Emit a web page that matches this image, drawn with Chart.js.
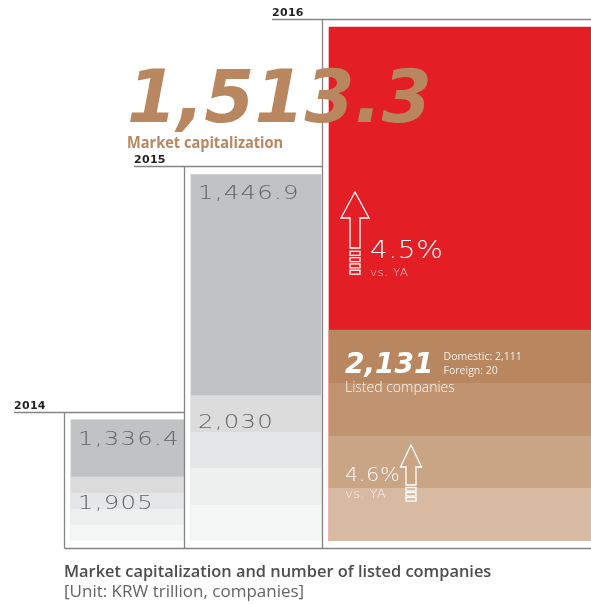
<!DOCTYPE html>
<html>
<head>
<meta charset="utf-8">
<script src="https://cdn.jsdelivr.net/npm/chart.js@4.4.1/dist/chart.umd.min.js"></script>
<style>
  html, body { margin: 0; padding: 0; background: #ffffff; }
  #wrap { position: relative; width: 591px; height: 604px; }
  canvas { display: block; }
</style>
</head>
<body>
<div id="wrap"><canvas id="chart" width="591" height="604"></canvas></div>
<script>
// ---------------- data ----------------
const years = ['2014', '2015', '2016'];
const marketCap = [1336.4, 1446.9, 1513.3];      // KRW trillion
const listedCompanies = [1905, 2030, 2131];      // companies
const listedDomestic2016 = 2111;
const listedForeign2016 = 20;
const growthVsYA = ['4.5%', '4.6%'];             // [market cap, listed companies]
const captionTitle = 'Market capitalization and number of listed companies';
const captionUnit = '[Unit: KRW trillion, companies]';

// ---------------- layout / style ----------------
const columnEdges = [[71, 184], [191, 321], [329, 591]];   // left/right edge of each year column (px)
const capColors = ['#c1c2c4', '#c1c2c4', '#e31e25'];
const bandPalettes = [
  ['#dcdcdd', '#e5e6e8', '#eeefef', '#f5f6f6'],
  ['#dcdcdd', '#e5e6e8', '#eeefef', '#f5f6f6'],
  ['#b8875f', '#c09470', '#c9a586', '#d7baa1']
];
const TAN = '#b8865f';
const GREY_TEXT = '#636468';
const LINE = '#848484';

const fmtCap = v => v.toLocaleString('en-US', { minimumFractionDigits: 1, maximumFractionDigits: 1 });
const fmtInt = v => v.toLocaleString('en-US');

function bandFill(context, i) {
  const chart = context.chart;
  const area = chart.chartArea;
  const y = chart.scales.yListed;
  if (!area || !y || context.type !== 'data') return bandPalettes[i][0];
  const top = y.getPixelForValue(context.parsed.y);
  const bottom = area.bottom;
  const g = chart.ctx.createLinearGradient(0, top, 0, bottom);
  bandPalettes[i].forEach((c, k) => {
    g.addColorStop(k / 4, c);
    g.addColorStop((k + 1) / 4, c);
  });
  return g;
}

const datasets = [];
years.forEach((yr, i) => {
  const [l, r] = columnEdges[i];
  datasets.push({
    label: yr + ' listed companies',
    yAxisID: 'yListed',
    data: [{ x: (l + r) / 2, y: listedCompanies[i] }],
    barThickness: r - l,
    grouped: false,
    order: 0,
    borderWidth: 0,
    backgroundColor: ctx => bandFill(ctx, i)
  });
  datasets.push({
    label: yr + ' market capitalization',
    yAxisID: 'yCap',
    data: [{ x: (l + r) / 2, y: marketCap[i] }],
    barThickness: r - l,
    grouped: false,
    order: 1,
    borderWidth: 0,
    backgroundColor: capColors[i]
  });
});

// draws text; sx = horizontal stretch (to mimic the wide display face)
function drawText(ctx, str, x, y, font, color, ls, sx) {
  ctx.save();
  ctx.font = font;
  ctx.fillStyle = color;
  ctx.textAlign = 'left';
  ctx.textBaseline = 'alphabetic';
  if ('letterSpacing' in ctx) ctx.letterSpacing = (ls || 0) + 'px';
  ctx.translate(x, y);
  ctx.scale(sx || 1, 1);
  ctx.fillText(str, 0, 0);
  const w = ctx.measureText(str).width * (sx || 1);
  ctx.restore();
  return w;
}

function drawArrow(ctx, cx, tip, headW, headH, shaftW, shaftLen, nBoxes, boxH, boxGap) {
  ctx.save();
  ctx.strokeStyle = '#ffffff';
  ctx.lineWidth = 1.3;
  ctx.lineJoin = 'miter';
  const hb = tip + headH, sb = hb + shaftLen;
  ctx.beginPath();
  ctx.moveTo(cx, tip);
  ctx.lineTo(cx + headW / 2, hb);
  ctx.lineTo(cx + shaftW / 2, hb);
  ctx.lineTo(cx + shaftW / 2, sb);
  ctx.lineTo(cx - shaftW / 2, sb);
  ctx.lineTo(cx - shaftW / 2, hb);
  ctx.lineTo(cx - headW / 2, hb);
  ctx.closePath();
  ctx.stroke();
  let y = sb + boxGap + 1;
  for (let k = 0; k < nBoxes; k++) {
    ctx.strokeRect(cx - shaftW / 2, y, shaftW, boxH);
    y += boxH + boxGap;
  }
  ctx.restore();
}

const decor = {
  id: 'decor',
  afterDatasetsDraw(chart) {
    const ctx = chart.ctx;
    const area = chart.chartArea;
    const boxes = years.map((_, i) => {
      const lst = chart.getDatasetMeta(2 * i).data[0].getProps(['x', 'y', 'width'], true);
      const cap = chart.getDatasetMeta(2 * i + 1).data[0].getProps(['x', 'y', 'width'], true);
      return { left: cap.x - cap.width / 2, right: cap.x + cap.width / 2, top: cap.y, mid: lst.y, bottom: area.bottom };
    });

    // frames
    ctx.save();
    ctx.strokeStyle = LINE;
    ctx.lineWidth = 1.3;
    const bottomY = Math.round(area.bottom + 7) + 0.5;
    boxes.forEach((b, i) => {
      const lineY = Math.round(b.top - 8) + 0.5;
      const vx = Math.floor(b.left - 7) + 0.5;
      const rightEnd = i < boxes.length - 1 ? Math.floor(boxes[i + 1].left - 7) + 0.5 : chart.width;
      ctx.beginPath();
      ctx.moveTo(b.left - 57, lineY);
      ctx.lineTo(rightEnd, lineY);
      ctx.moveTo(vx, lineY);
      ctx.lineTo(vx, bottomY);
      ctx.stroke();
      drawText(ctx, years[i], b.left - 57, lineY - 4, 'bold 11px "DejaVu Sans"', '#231f20', 0.3);
    });
    ctx.beginPath();
    ctx.moveTo(Math.floor(boxes[0].left - 7) + 0.5, bottomY);
    ctx.lineTo(chart.width, bottomY);
    ctx.stroke();
    ctx.restore();

    // grey columns (2014, 2015)
    for (let i = 0; i < 2; i++) {
      const b = boxes[i];
      drawText(ctx, fmtCap(marketCap[i]), b.left + 7, b.top + 25, '200 20px "DejaVu Sans"', GREY_TEXT, 1, 1.22);
      drawText(ctx, fmtInt(listedCompanies[i]), b.left + 7, b.mid + 32, '200 20px "DejaVu Sans"', GREY_TEXT, 1, 1.22);
    }

    // 2016 column
    const b = boxes[2];
    drawText(ctx, fmtCap(marketCap[2]), b.left - 202, b.top + 95, 'italic bold 73px "DejaVu Sans"', TAN, 0, 0.985);
    drawText(ctx, 'Market capitalization', b.left - 202, b.top + 121, '700 15.5px "Open Sans"', TAN, 0, 0.94);

    drawArrow(ctx, b.left + 26, b.mid - 138, 28, 26, 10, 30, 4, 4, 2.3);
    drawText(ctx, growthVsYA[0], b.left + 41, b.mid - 72, '200 25px "DejaVu Sans"', '#ffffff', 0.5, 1.12);
    drawText(ctx, 'vs. YA', b.left + 41, b.mid - 54, '200 11px "DejaVu Sans"', 'rgba(255,255,255,0.75)', 0.4, 1.1);

    const w = drawText(ctx, fmtInt(listedCompanies[2]), b.left + 16, b.mid + 43, 'italic bold 28px "DejaVu Sans"', '#ffffff', 0);
    drawText(ctx, 'Domestic: ' + fmtInt(listedDomestic2016), b.left + 16 + w + 10, b.mid + 30, '10.5px "Open Sans"', 'rgba(255,255,255,0.85)', 0);
    drawText(ctx, 'Foreign: ' + fmtInt(listedForeign2016), b.left + 16 + w + 10, b.mid + 44, '10.5px "Open Sans"', 'rgba(255,255,255,0.85)', 0);
    drawText(ctx, 'Listed companies', b.left + 16, b.mid + 62, '300 14px "Open Sans"', 'rgba(255,255,255,0.92)', 0);

    drawArrow(ctx, b.left + 82, b.mid + 115, 21, 22, 10, 18, 3, 3.5, 1.5);
    drawText(ctx, growthVsYA[1], b.left + 16, b.mid + 151, '200 19px "DejaVu Sans"', 'rgba(255,255,255,0.95)', 0.5, 1.1);
    drawText(ctx, 'vs. YA', b.left + 16, b.mid + 168, '200 12px "DejaVu Sans"', 'rgba(255,255,255,0.8)', 0.3, 1.1);

    // caption
    drawText(ctx, captionTitle, boxes[0].left - 7, 577, '600 16.4px "Open Sans"', '#4d4d4f', 0);
    drawText(ctx, captionUnit, boxes[0].left - 7, 597, '17px "Open Sans"', GREY_TEXT, 0);
  }
};

new Chart(document.getElementById('chart'), {
  type: 'bar',
  data: { datasets },
  options: {
    responsive: false,
    animation: false,
    devicePixelRatio: 1,
    layout: { padding: { left: 0, right: 0, top: 0, bottom: 63 } },
    plugins: { legend: { display: false }, tooltip: { enabled: false }, title: { display: false } },
    scales: {
      x: { type: 'linear', min: 0, max: 591, offset: false, display: false },
      yCap: { type: 'linear', position: 'left', min: 1281.8, max: 1525.5, beginAtZero: false, bounds: 'data', display: false },
      yListed: { type: 'linear', position: 'right', min: 1806.6, max: 2638.4, beginAtZero: false, bounds: 'data', display: false }
    }
  },
  plugins: [decor]
});
</script>
</body>
</html>
